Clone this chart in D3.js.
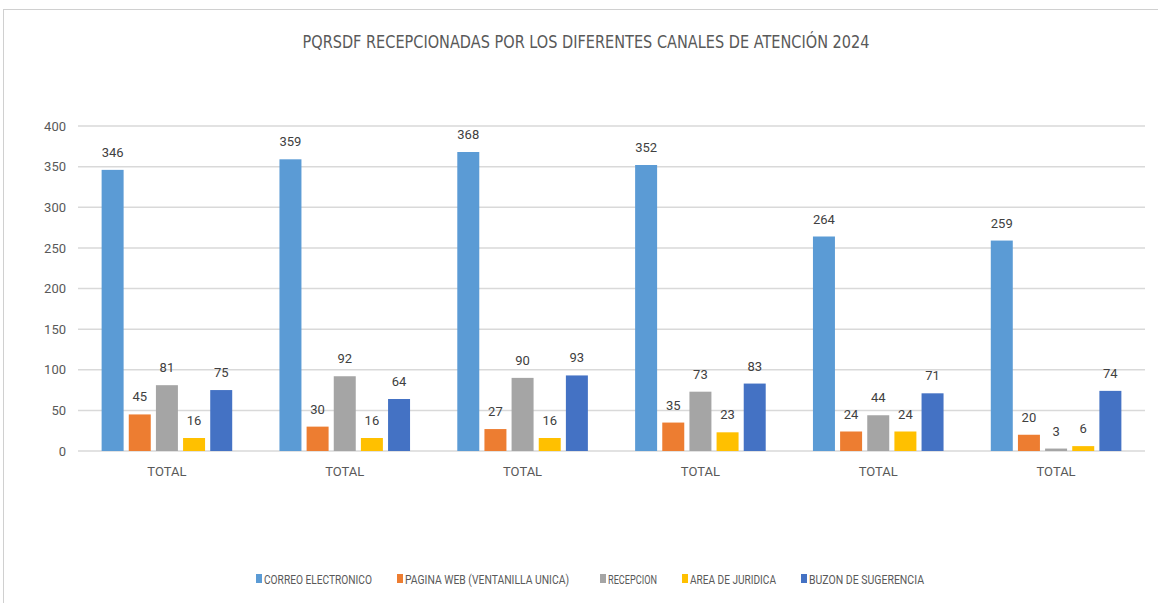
<!DOCTYPE html>
<html>
<head>
<meta charset="utf-8">
<script src="https://cdn.jsdelivr.net/npm/d3@7"></script>
<style>
  body { margin: 0; background: #fff; }
  text { font-family: "Liberation Sans Narrow", "Roboto", "DejaVu Sans", sans-serif; }
</style>
</head>
<body>
<div id="chart"></div>
<script>
// chart data
var categories = ["TOTAL", "TOTAL", "TOTAL", "TOTAL", "TOTAL", "TOTAL"];
var seriesNames = ["CORREO ELECTRONICO", "PAGINA WEB (VENTANILLA UNICA)", "RECEPCION", "AREA DE JURIDICA", "BUZON DE SUGERENCIA"];
var correo = [346, 359, 368, 352, 264, 259];
var paginaWeb = [45, 30, 27, 35, 24, 20];
var recepcion = [81, 92, 90, 73, 44, 3];
var areaJuridica = [16, 16, 16, 23, 24, 6];
var buzon = [75, 64, 93, 83, 71, 74];
var yTicks = [0, 50, 100, 150, 200, 250, 300, 350, 400];
var colors = ["#5B9BD5", "#ED7D31", "#A5A5A5", "#FFC000", "#4472C4"];

var seriesValues = [correo, paginaWeb, recepcion, areaJuridica, buzon];

var width = 1158, height = 603;
var margin = {top: 126, right: 13, bottom: 152, left: 78};

var svg = d3.select("#chart").append("svg")
  .attr("width", width).attr("height", height);

// outer frame of the pasted chart
svg.append("rect")
  .attr("x", 3.5).attr("y", 9.5)
  .attr("width", width + 20).attr("height", height + 20)
  .attr("fill", "none").attr("stroke", "#d0d0d0").attr("stroke-width", 1);

var x0 = d3.scaleBand()
  .domain(d3.range(categories.length))
  .range([margin.left, width - margin.right])
  .paddingInner(0).paddingOuter(0);

var x1 = d3.scaleBand()
  .domain(d3.range(seriesNames.length))
  .range([0, x0.bandwidth()])
  .paddingInner(0.19)
  .paddingOuter(0.87);

var y = d3.scaleLinear()
  .domain([0, 400])
  .range([height - margin.bottom, margin.top]);

// gridlines
svg.append("g").selectAll("line")
  .data(yTicks).enter().append("line")
  .attr("x1", margin.left).attr("x2", width - margin.right)
  .attr("y1", function(d) { return y(d); })
  .attr("y2", function(d) { return y(d); })
  .attr("stroke", "#d9d9d9")
  .attr("stroke-width", 1.5);

// y axis labels
var yAxis = d3.axisLeft(y).tickValues(yTicks).tickSize(0).tickPadding(12);
svg.append("g")
  .attr("transform", "translate(" + margin.left + ",0)")
  .call(yAxis)
  .call(function(g) { g.select(".domain").remove(); })
  .selectAll("text")
  .attr("fill", "#595959")
  .style("font-size", "13px");

// x axis labels
var xAxis = d3.axisBottom(x0).tickSize(0).tickPadding(16)
  .tickFormat(function(i) { return categories[i]; });
svg.append("g")
  .attr("transform", "translate(0," + y(0) + ")")
  .call(xAxis)
  .call(function(g) { g.select(".domain").remove(); })
  .selectAll("text")
  .attr("fill", "#595959")
  .style("font-size", "13px");

// bars
var groups = svg.append("g").selectAll("g")
  .data(categories).enter().append("g")
  .attr("transform", function(d, i) { return "translate(" + x0(i) + ",0)"; });

groups.each(function(c, i) {
  var g = d3.select(this);
  var vals = seriesValues.map(function(s) { return s[i]; });
  g.selectAll("rect").data(vals).enter().append("rect")
    .attr("x", function(d, j) { return x1(j); })
    .attr("y", function(d) { return y(d); })
    .attr("width", x1.bandwidth())
    .attr("height", function(d) { return y(0) - y(d); })
    .attr("fill", function(d, j) { return colors[j]; });
  g.selectAll("text.lbl").data(vals).enter().append("text")
    .attr("class", "lbl")
    .attr("x", function(d, j) { return x1(j) + x1.bandwidth() / 2; })
    .attr("y", function(d) { return y(d) - 13; })
    .attr("text-anchor", "middle")
    .attr("fill", "#404040")
    .style("font-size", "13px")
    .text(function(d) { return d; });
});

// title
svg.append("text")
  .attr("x", 586).attr("y", 48)
  .attr("text-anchor", "middle")
  .attr("fill", "#595959")
  .attr("textLength", 567)
  .attr("lengthAdjust", "spacingAndGlyphs")
  .style("font-family", "'DejaVu Sans', sans-serif")
  .style("font-size", "17px")
  .text("PQRSDF RECEPCIONADAS POR LOS DIFERENTES CANALES DE ATENCIÓN 2024");

// legend
var legendX = [256, 397, 600, 682, 801];
var legendW = [108, 164, 49, 86, 115];
var legend = svg.append("g").selectAll("g")
  .data(seriesNames).enter().append("g")
  .attr("transform", function(d, i) { return "translate(" + legendX[i] + ",574)"; });
legend.append("rect")
  .attr("width", 6).attr("height", 9)
  .attr("fill", function(d, i) { return colors[i]; });
legend.append("text")
  .attr("x", 8).attr("y", 9.5)
  .attr("fill", "#595959")
  .attr("textLength", function(d, i) { return legendW[i]; })
  .attr("lengthAdjust", "spacingAndGlyphs")
  .style("font-size", "13px")
  .text(function(d) { return d; });
</script>
</body>
</html>
